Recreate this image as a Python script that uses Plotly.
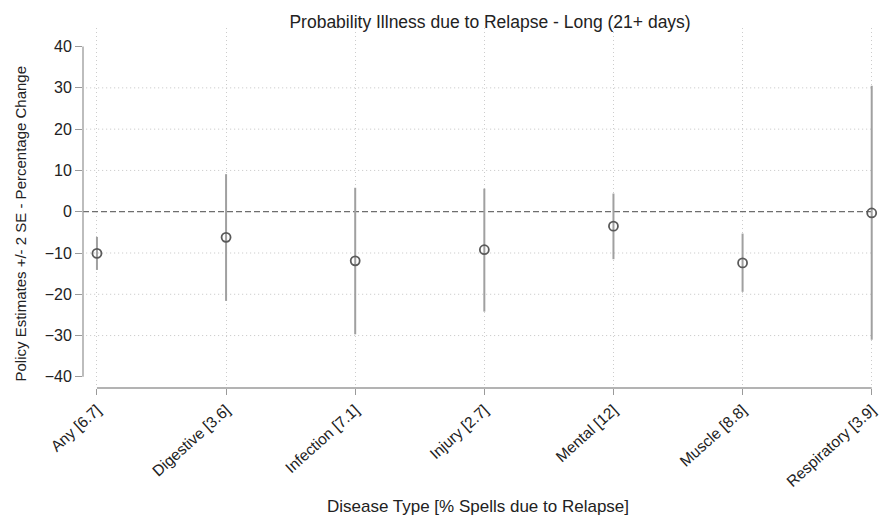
import plotly.graph_objects as go

categories = ["Any [6.7]", "Digestive [3.6]", "Infection [7.1]", "Injury [2.7]",
              "Mental [12]", "Muscle [8.8]", "Respiratory [3.9]"]
estimates = [-10.1, -6.2, -11.9, -9.2, -3.5, -12.4, -0.3]
ci_upper = [-6.1, 9.1, 5.8, 5.6, 4.4, -5.3, 30.5]
ci_lower = [-14.1, -21.6, -29.7, -24.2, -11.5, -19.4, -31.0]
y_ticks = [-40, -30, -20, -10, 0, 10, 20, 30, 40]
grid_vals = [-30, -20, -10, 10, 20, 30]

xpos = list(range(len(categories)))

fig = go.Figure()

DOT = "1px,3px"
shapes = []
for g in grid_vals:
    shapes.append(dict(type="line", xref="paper", x0=0.004, x1=1, yref="y", y0=g, y1=g,
                       line=dict(color="#c4c4c4", width=1, dash=DOT), layer="below"))
shapes.append(dict(type="line", xref="paper", x0=0, x1=1, yref="y", y0=0, y1=0,
                   line=dict(color="#6e6e6e", width=1.2, dash="6px,3px"), layer="below"))
shapes.append(dict(type="line", xref="paper", x0=0, x1=0, yref="y", y0=y_ticks[0], y1=y_ticks[-1],
                   line=dict(color="#9a9a9a", width=1.3)))
shapes.append(dict(type="line", xref="x", x0=xpos[0], x1=xpos[-1], yref="paper", y0=0, y1=0,
                   line=dict(color="#9a9a9a", width=1.3)))

for i in xpos:
    fig.add_trace(go.Scatter(x=[i, i], y=[ci_lower[i], ci_upper[i]], mode="lines",
                             line=dict(color="#a0a0a0", width=2), showlegend=False,
                             hoverinfo="skip", cliponaxis=False))

fig.add_trace(go.Scatter(x=xpos, y=estimates, mode="markers", cliponaxis=False,
                         marker=dict(symbol="circle-open", size=9, color="#5a5a5a",
                                     line=dict(width=1.8, color="#5a5a5a")),
                         showlegend=False))

fig.add_annotation(text="Policy Estimates +/- 2 SE - Percentage Change",
                   xref="paper", yref="paper", x=-0.0797, y=0.457,
                   xanchor="center", yanchor="middle", textangle=-90, showarrow=False,
                   font=dict(size=15, color="#222222"))

fig.update_layout(
    width=883, height=516,
    margin=dict(l=83, r=10, t=28, b=128, autoexpand=False),
    plot_bgcolor="white", paper_bgcolor="white",
    font=dict(family="Liberation Sans, Arial, sans-serif", color="#222222"),
    title=dict(text="Probability Illness due to Relapse - Long (21+ days)",
               x=0.555, xanchor="center", y=0.958, yanchor="middle",
               font=dict(size=17.5, color="#222222")),
    shapes=shapes,
    xaxis=dict(range=[-0.108, 6.01], tickmode="array", tickvals=xpos, ticktext=categories,
               tickangle=-42, tickfont=dict(size=15.5), ticks="outside", ticklen=6,
               tickcolor="#9a9a9a", showline=False, zeroline=False, automargin=False,
               showgrid=True, gridcolor="#cccccc", griddash=DOT, gridwidth=1,
               title=dict(text="Disease Type [% Spells due to Relapse]", font=dict(size=17),
                          standoff=24)),
    yaxis=dict(range=[-42.7, 44.5], tickmode="array", tickvals=y_ticks, automargin=False,
               tickfont=dict(size=16), ticks="outside", ticklen=7, tickcolor="#9a9a9a",
               showline=False, zeroline=False, showgrid=False),
)

fig.write_html("out.html")
